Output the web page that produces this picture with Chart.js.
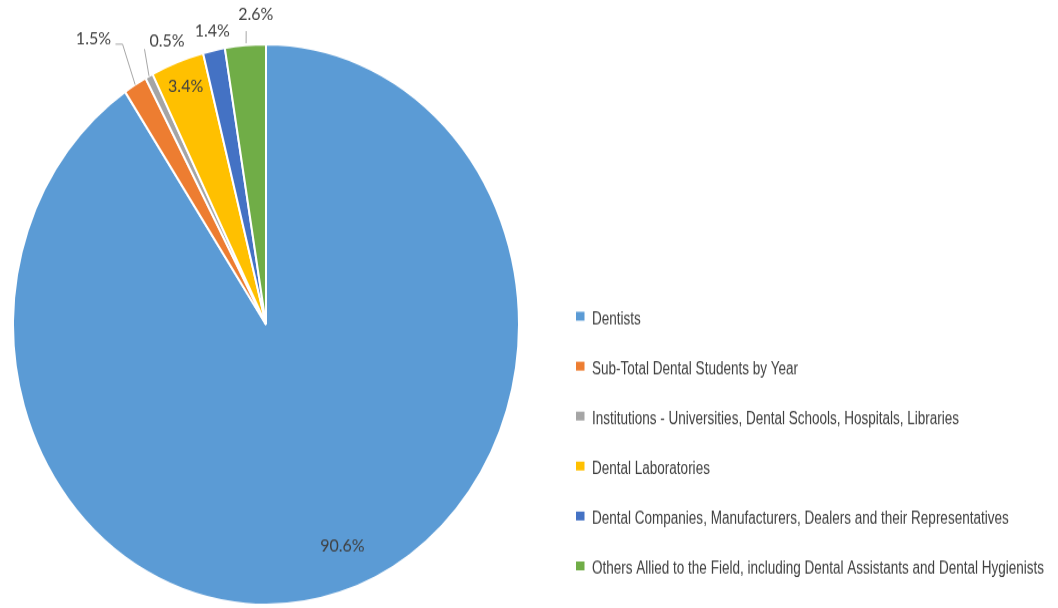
<!DOCTYPE html>
<html>
<head>
<meta charset="utf-8">
<script src="https://cdn.jsdelivr.net/npm/chart.js@4.4.0/dist/chart.umd.min.js"></script>
<style>
  html, body { margin: 0; padding: 0; background: #fff; overflow: hidden; }
  /* the reference pie is an ellipse, so the whole chart is stretched vertically */
  #wrap { position: absolute; left: 0; top: 0; width: 1058px; height: 549px;
          transform: scaleY(1.10747); transform-origin: 0 0; }
</style>
</head>
<body>
<div id="wrap"><canvas id="pie"></canvas></div>
<script>
const categories = [
  'Dentists',
  'Sub-Total Dental Students by Year',
  'Institutions - Universities, Dental Schools, Hospitals, Libraries',
  'Dental Laboratories',
  'Dental Companies, Manufacturers, Dealers and their Representatives',
  'Others Allied to the Field, including Dental Assistants and Dental Hygienists'
];
const shares = [90.6, 1.5, 0.5, 3.4, 1.4, 2.6];
const colors = ['#5B9BD5', '#ED7D31', '#A5A5A5', '#FFC000', '#4472C4', '#70AD47'];

// where each value label sits: angle offset from slice middle (deg), radius factor,
// optional leader line points in the same polar terms
const labelPlacement = [
  { da: -4, f: 0.846 },
  { da: -2.6, f: 1.228, leader: [[0, 1.0], [1.6, 1.150], [0.4, 1.164]] },
  { da: 6.4, f: 1.084, leader: [[0, 1.0], [1.5, 1.094]] },
  { da: 0, f: 0.906 },
  { da: 0.4, f: 1.068 },
  { da: 2.6, f: 1.108, leader: [[0.2, 1.007], [0.4, 1.05]] }
];

const sliceLabels = {
  id: 'sliceLabels',
  afterDatasetsDraw(chart) {
    const ctx = chart.ctx;
    const arcs = chart.getDatasetMeta(0).data;
    ctx.save();
    ctx.font = '16px Lato';
    ctx.fillStyle = '#404040';
    ctx.textAlign = 'center';
    ctx.textBaseline = 'middle';
    ctx.strokeStyle = '#A6A6A6';
    ctx.lineWidth = 1;
    arcs.forEach((arc, i) => {
      const { x, y, startAngle, endAngle, outerRadius } =
        arc.getProps(['x', 'y', 'startAngle', 'endAngle', 'outerRadius'], true);
      const mid = (startAngle + endAngle) / 2;
      const p = labelPlacement[i];
      const pt = (da, f) => {
        const a = mid + da * Math.PI / 180;
        return [x + Math.cos(a) * outerRadius * f, y + Math.sin(a) * outerRadius * f];
      };
      if (p.leader) {
        ctx.beginPath();
        p.leader.forEach(([da, f], k) => {
          const q = pt(da, f);
          if (k) ctx.lineTo(q[0], q[1]); else ctx.moveTo(q[0], q[1]);
        });
        ctx.stroke();
      }
      const t = pt(p.da, p.f);
      ctx.fillText(chart.data.datasets[0].data[i].toFixed(1) + '%', t[0], t[1]);
    });
    ctx.restore();
  }
};

// legend on the right, in a condensed face (squeezed so the longest entry fits opts.width)
const sideLegend = {
  id: 'sideLegend',
  afterDraw(chart, args, opts) {
    const ctx = chart.ctx;
    const ds = chart.data.datasets[0];
    ctx.save();
    ctx.font = opts.font;
    ctx.textBaseline = 'middle';
    const longest = Math.max(...chart.data.labels.map(l => ctx.measureText(l).width));
    const sx = opts.width / longest;
    chart.data.labels.forEach((lab, i) => {
      const y = opts.top + i * opts.step;
      ctx.fillStyle = ds.backgroundColor[i];
      ctx.fillRect(opts.left, y - 7, 8.5, 8);
      ctx.fillStyle = '#404040';
      ctx.save();
      ctx.translate(opts.left + 16, y);
      ctx.scale(sx, 1);
      ctx.fillText(lab, 0, 0);
      ctx.restore();
    });
    ctx.restore();
  }
};

new Chart(document.getElementById('pie'), {
  type: 'pie',
  data: {
    labels: categories,
    datasets: [{
      data: shares,
      backgroundColor: colors,
      borderColor: '#ffffff',
      borderWidth: 2
    }]
  },
  options: {
    responsive: true,
    maintainAspectRatio: false,
    animation: false,
    layout: { padding: { left: 12, right: 538, top: 39, bottom: 2 } },
    plugins: {
      legend: { display: false },
      tooltip: { enabled: false },
      sideLegend: { left: 576, top: 288.5, step: 45.1, width: 452, font: '16px "Liberation Sans"' }
    }
  },
  plugins: [sliceLabels, sideLegend]
});
</script>
</body>
</html>
